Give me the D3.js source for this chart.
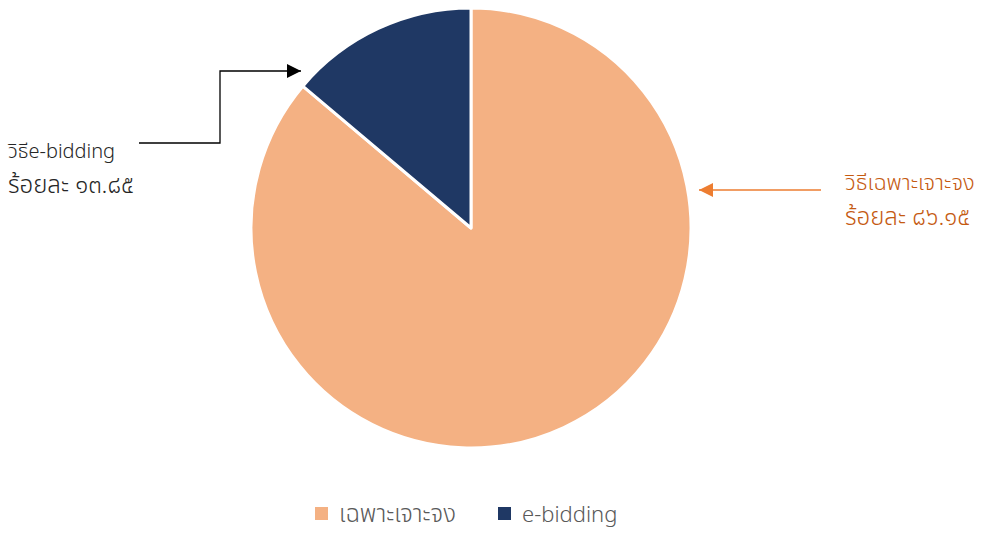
<!DOCTYPE html>
<html><head><meta charset="utf-8">
<script src="https://cdn.jsdelivr.net/npm/d3@7"></script>
<style>body{margin:0;background:#fff}svg{display:block;font-family:"Noto Sans Thai","Noto Sans","DejaVu Sans",sans-serif}</style>
</head><body>
<svg id="c" width="985" height="534"></svg>
<script>
const categories = ["เฉพาะเจาะจง", "e-bidding"];
const values = [86.15, 13.85];
const colors = ["#F4B183", "#1F3864"];
const labelLines = [["วิธีเฉพาะเจาะจง", "ร้อยละ ๘๖.๑๕"], ["วิธีe-bidding", "ร้อยละ ๑๓.๘๕"]];

const svg = d3.select("#c");
const cx = 471, cy = 228, r = 220;
const pie = d3.pie().sort(null).value(d => d)(values);
const arc = d3.arc().innerRadius(0).outerRadius(r);
const g = svg.append("g").attr("transform", `translate(${cx},${cy})`);
g.selectAll("path").data(pie).join("path")
  .attr("d", arc).attr("fill", (d, i) => colors[i])
  .attr("stroke", "#fff").attr("stroke-width", 3).attr("stroke-linejoin", "round");

const defs = svg.append("defs");
function marker(id, col) {
  defs.append("marker").attr("id", id).attr("viewBox", "0 0 10 10").attr("refX", 10).attr("refY", 5)
    .attr("markerWidth", 14).attr("markerHeight", 14).attr("markerUnits", "userSpaceOnUse").attr("orient", "auto")
    .append("path").attr("d", "M0,0L10,5L0,10Z").attr("fill", col);
}
marker("mb", "#000");
marker("mo", "#ED7D31");

// left annotation (e-bidding)
svg.append("path").attr("d", "M139,143H220V71H301").attr("fill", "none").attr("stroke", "#000")
  .attr("stroke-width", 1.3).attr("marker-end", "url(#mb)");
const lt = svg.append("text").attr("x", 8).attr("y", 158).attr("font-size", 20).attr("font-weight", 300).attr("fill", "#262626");
labelLines[1].forEach((s, i) => lt.append("tspan").attr("x", 8).attr("dy", i ? 35 : 0).attr("font-size", i ? 24 : 20).text(s));

// right annotation
svg.append("path").attr("d", "M821,190H699").attr("fill", "none").attr("stroke", "#ED7D31")
  .attr("stroke-width", 1.3).attr("marker-end", "url(#mo)");
const rt = svg.append("text").attr("x", 845).attr("y", 190).attr("font-size", 22).attr("font-weight", 300).attr("fill", "#C55A11");
labelLines[0].forEach((s, i) => rt.append("tspan").attr("x", 845).attr("dy", i ? 35 : 0).attr("font-size", i ? 24 : 22).text(s));

// legend
const lg = svg.append("g");
const lx = [315, 498];
categories.forEach((c, i) => {
  lg.append("rect").attr("x", lx[i]).attr("y", 507).attr("width", 13).attr("height", 13).attr("fill", colors[i]);
  lg.append("text").attr("x", lx[i] + 24).attr("y", 522).attr("font-size", i ? 22 : 24).attr("font-weight", 300)
    .attr("fill", "#595959").text(c);
});
</script>
</body></html>
